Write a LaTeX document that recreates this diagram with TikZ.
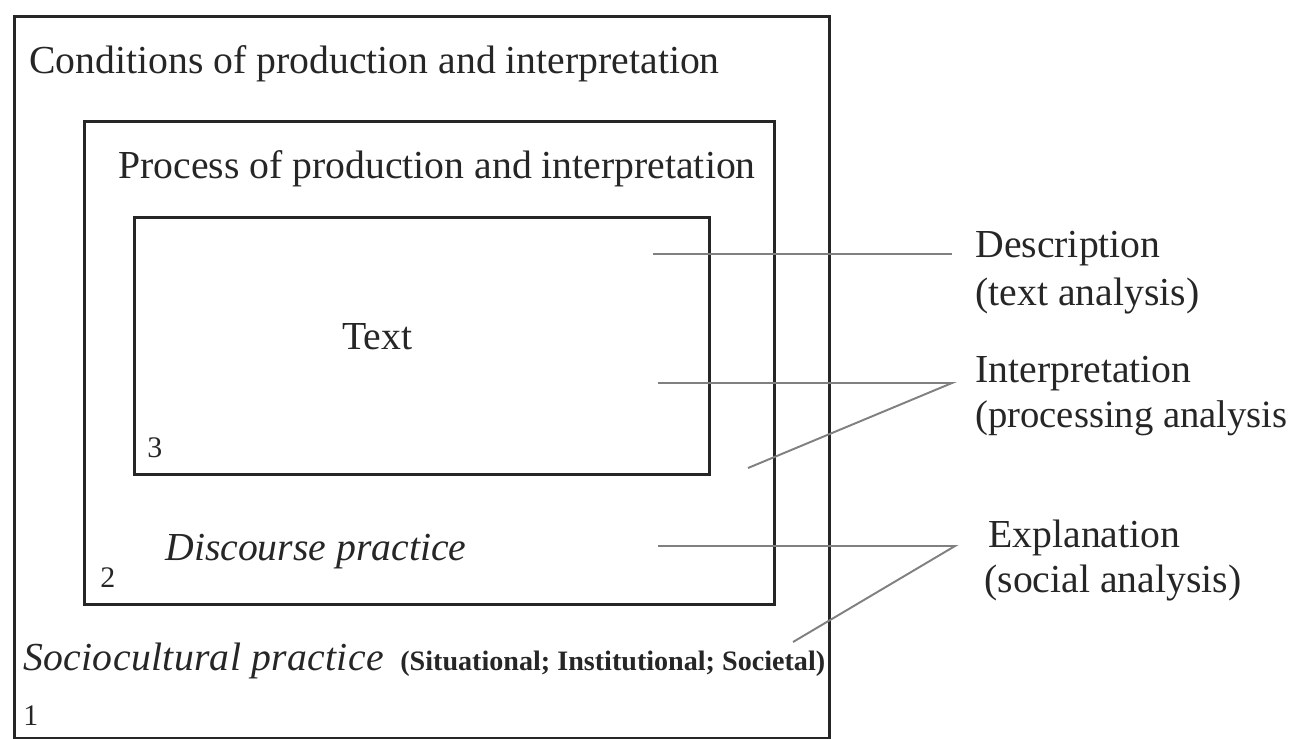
\documentclass[tikz,border=0pt]{standalone}
\usepackage{fontspec}
\setmainfont{Liberation Serif}
\usetikzlibrary{positioning}
\tikzset{
  frame/.style={rectangle, draw=black!85, line width=1.9pt, inner sep=0pt, anchor=north west},
  leader/.style={draw=black!50, line width=1.1pt},
  title/.style={anchor=base west, inner sep=0pt, text=black!85, font=\fontsize{22.6}{28}\selectfont},
  slanted/.style={title, font=\fontsize{22.6}{28}\selectfont\itshape},
  tag/.style={anchor=base west, inner sep=0pt, text=black!85, font=\fontsize{17}{20}\selectfont}
}

\begin{document}
\begin{tikzpicture}[x=0.02cm, y=-0.02cm]
	\useasboundingbox (0,0) rectangle (1293,738);
	
	% Boxes
	\node (outer) [frame, minimum width=16.3cm, minimum height=14.44cm] at (13,15) {};
	\node (middle) [frame, minimum width=13.8cm, minimum height=9.66cm] at (83,120) {};
	\node (inner) [frame, minimum width=11.5cm, minimum height=5.14cm] at (133,216) {};
	
	% Texts in the boxes
	\node (cond) [title] at (29,73) {Conditions of production and interpretation};
	\node (proc) [title] at (118,178) {Process of production and interpretation};
	\node (txt) [title] at (342,349) {Text};
	\node (num3) [tag] at (147,457) {3};
	\node (disc) [slanted] at (165,560) {Discourse practice};
	\node (num2) [tag] at (100,587) {2};
	\node (socio) [slanted, font=\fontsize{22.6}{28}\selectfont\itshape\addfontfeature{LetterSpace=0.8}] at (23,670) {Sociocultural practice};
	\node (levels) [anchor=base west, inner sep=0pt, text=black!85, font=\fontsize{16}{18}\selectfont\bfseries] at (400,670) {(Situational; Institutional; Societal)};
	\node (num1) [tag] at (23,725) {1};
	
	% Labels on the right
	\node (descr) [title] at (975,257) {Description};
	\node (descrSub) [title] at (975,305) {(text analysis)};
	\node (interp) [title] at (975,382) {Interpretation};
	\node (interpSub) [title, font=\fontsize{22}{28}\selectfont] at (975,427) {(processing analysis};
	\node (expl) [title] at (988,547) {Explanation};
	\node (explSub) [title] at (984,592) {(social analysis)};
	
	% Leader lines
	\coordinate (dFrom) at (653,254);
	\coordinate (dTo) at (952,254);
	\coordinate (iFrom) at (658,383);
	\coordinate (iJoin) at (952,383);
	\coordinate (iTip) at (748,468);
	\coordinate (eFrom) at (658,546);
	\coordinate (eJoin) at (955,546);
	\coordinate (eTip) at (793,642);
	
	\draw [leader] (dFrom) -- (dTo);
	\draw [leader] (iFrom) -- (iJoin) -- (iTip);
	\draw [leader] (eFrom) -- (eJoin) -- (eTip);
	
\end{tikzpicture}
\end{document}
